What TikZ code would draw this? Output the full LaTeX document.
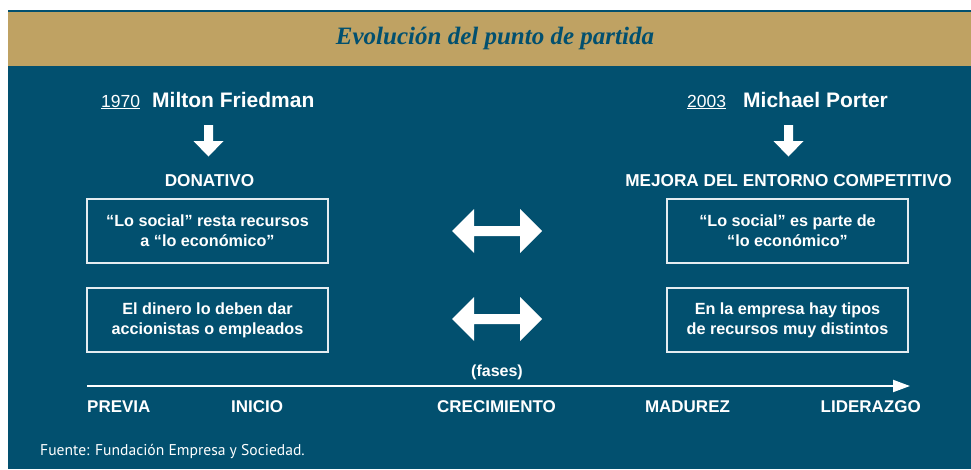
\documentclass[tikz,border=0pt]{standalone}
\usepackage{fontspec}
\setmainfont{Liberation Sans}
\newfontfamily\titlefont{Liberation Serif}
\newfontfamily\srcfont{PT Sans}
\usetikzlibrary{arrows.meta}
\definecolor{navy}{HTML}{02506F}
\definecolor{gold}{HTML}{BFA263}
\definecolor{boxline}{HTML}{E4ECF0}
\tikzset{
  head/.style={text=white, inner sep=0pt, font=\fontsize{21}{24}\selectfont\bfseries},
  year/.style={text=white, inner sep=0pt, font=\fontsize{17.5}{20}\selectfont},
  cat/.style={text=white, inner sep=0pt, font=\fontsize{17.2}{20}\selectfont\bfseries},
  txtbox/.style={draw=boxline, line width=1.1pt, text=white, minimum width=241pt, minimum height=64pt, inner sep=0pt, align=center, font=\fontsize{16.2}{20}\selectfont\bfseries},
  phase/.style={text=white, inner sep=0pt, font=\fontsize{17}{19}\selectfont\bfseries},
  warrow/.style={fill=white, draw=none},
}
\begin{document}
\begin{tikzpicture}[x=1pt,y=-1pt]
\useasboundingbox (0,0) rectangle (971,469);
\fill[white] (0,0) rectangle (971,469);
\fill[navy] (8,66) rectangle (971,469);
\fill[gold] (8,11) rectangle (971,66);
\fill[navy] (8,10) rectangle (971,11.8);
\node[text=navy, inner sep=0pt, font=\titlefont\fontsize{25}{27}\selectfont\bfseries\itshape] (title) at (495,38) {Evolución del punto de partida};

% headers
\node[year, anchor=base west] (y1970) at (101,107) {\underline{1970}};
\node[head, anchor=base west] (friedman) at (152,107) {Milton Friedman};
\node[year, anchor=base west] (y2003) at (687,107) {\underline{2003}};
\node[head, anchor=base west] (porter) at (743,107) {Michael Porter};

% down arrows
\fill[white] (204,125) -- (213,125) -- (213,141) -- (223.5,141) -- (208.5,156.5) -- (193.5,141) -- (204,141) -- cycle;
\fill[white] (784,125) -- (793,125) -- (793,141) -- (803.5,141) -- (788.5,156.5) -- (773.5,141) -- (784,141) -- cycle;

\node[cat, anchor=base] (donativo) at (209.5,186) {DONATIVO};
\node[cat, anchor=base] (mejora) at (788.5,186) {MEJORA DEL ENTORNO COMPETITIVO};

% boxes
\node[txtbox] (l1) at (207.5,231) {“Lo social” resta recursos\\a “lo económico”};
\node[txtbox] (l2) at (207.5,320) {El dinero lo deben dar\\accionistas o empleados};
\node[txtbox] (r1) at (787.5,231) {“Lo social” es parte de\\“lo económico”};
\node[txtbox] (r2) at (787.5,320) {En la empresa hay tipos\\de recursos muy distintos};

% double arrows
\foreach \cy in {231,319}{
  \fill[white] (452,\cy) -- (474,\cy-22) -- (474,\cy-5) -- (520,\cy-5) -- (520,\cy-22) -- (542,\cy) -- (520,\cy+22) -- (520,\cy+5) -- (474,\cy+5) -- (474,\cy+22) -- cycle;
}

% timeline
\node[text=white, inner sep=0pt, font=\fontsize{16}{18}\selectfont\bfseries, anchor=base] (fases) at (497,376) {(fases)};
\coordinate (tstart) at (87,386);
\coordinate (tend) at (910,386);
\draw[white, line width=2pt, -{Triangle[length=17pt,width=12pt]}] (tstart) -- (tend);

\node[phase, anchor=base west] (previa) at (87,412) {PREVIA};
\node[phase, anchor=base west] (inicio) at (231,412) {INICIO};
\node[phase, anchor=base] (crec) at (496.5,412) {CRECIMIENTO};
\node[phase, anchor=base] (madurez) at (687.5,412) {MADUREZ};
\node[phase, anchor=base east] (lider) at (921,412) {LIDERAZGO};

\node[text=white, inner sep=0pt, font=\srcfont\fontsize{15.6}{17}\selectfont, anchor=base west] (fuente) at (40,455) {Fuente: Fundación Empresa y Sociedad.};
\end{tikzpicture}
\end{document}
